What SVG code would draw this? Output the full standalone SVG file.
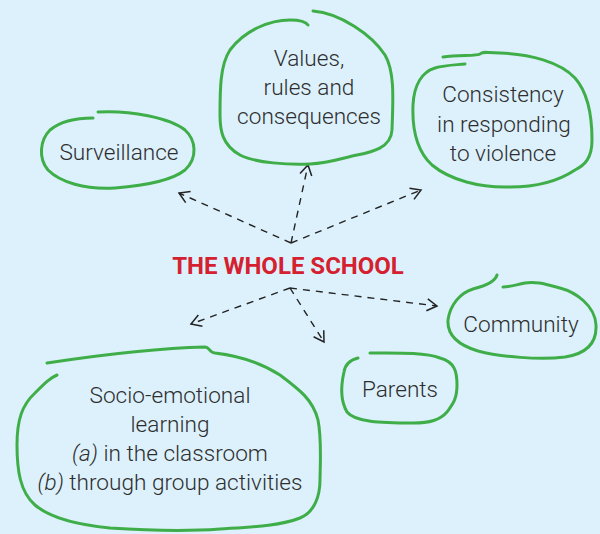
<svg xmlns="http://www.w3.org/2000/svg" width="600" height="534" viewBox="0 0 600 534">
  <style>
    .loop { fill: none; stroke: #3fae49; stroke-width: 3; stroke-linecap: round; stroke-linejoin: round; }
    .lbl { font-family: Roboto, "Liberation Sans", sans-serif; font-size: 22.6px; font-weight: 300; fill: #2e2e2e; text-anchor: middle; }
    .title { font-family: Roboto, "Liberation Sans", sans-serif; font-size: 24px; font-weight: bold; fill: #d5212f; text-anchor: middle; }
    .link { fill: none; stroke: #222222; stroke-width: 1.4; stroke-dasharray: 7 6; marker-end: url(#chev); }
  </style>
  <defs>
    <marker id="chev" markerUnits="userSpaceOnUse" markerWidth="16" markerHeight="16" refX="11" refY="7" orient="auto">
      <path d="M1,1 L11,7 L1,13" fill="none" stroke="#222222" stroke-width="1.5" stroke-dasharray="none"/>
    </marker>
  </defs>

  <rect x="0" y="0" width="600" height="534" fill="#dcf1fc"/>

  <!-- dashed connectors radiating from the centre -->
  <g id="connectors">
    <path class="link" d="M291,243 L179,193"/>
    <path class="link" d="M291,243 L308,165"/>
    <path class="link" d="M291,243 L421,190"/>
    <path class="link" d="M290,288 L191,324"/>
    <path class="link" d="M290,288 L324,342"/>
    <path class="link" d="M290,288 L437,306"/>
  </g>

  <g id="center">
    <text class="title" x="288" y="274">THE WHOLE SCHOOL</text>
  </g>

  <g id="surveillance">
    <path class="loop" d="M98,112 C130,110 170,118 185,130 C196,140 198,158 185,170 C170,182 140,186 115,188 C85,190 60,182 48,170 C38,158 40,140 50,130 C62,120 80,118 93,118"/>
    <text class="lbl" x="119" y="160">Surveillance</text>
  </g>

  <g id="values">
    <path class="loop" d="M313,11 C340,13 372,35 385,55 C395,72 393,100 392,130 C391,148 372,152 357,155 C342,158 330,163 310,164 C290,165 255,163 240,155 C222,145 220,130 220,115 C220,90 220,65 230,50 C245,30 270,20 290,20 C300,20 306,22 308,25"/>
    <text class="lbl" x="309" y="66">Values,</text>
    <text class="lbl" x="309" y="95">rules and</text>
    <text class="lbl" x="309" y="124">consequences</text>
  </g>

  <g id="consistency">
    <path class="loop" d="M443,57 C460,55 478,56 480,54 C483,51 486,53 500,53 C530,54 560,62 575,78 C590,95 592,120 592,140 C592,158 585,165 575,170 C560,180 540,187 510,187 C480,188 450,180 432,165 C418,152 412,130 413,105 C414,85 422,72 435,68 C445,65 455,65 465,64"/>
    <text class="lbl" x="503" y="102">Consistency</text>
    <text class="lbl" x="504" y="132">in responding</text>
    <text class="lbl" x="503" y="161">to violence</text>
  </g>

  <g id="community">
    <path class="loop" d="M497,275 C495,282 485,286 473,289 C460,293 450,305 448,320 C447,335 458,345 478,351 C500,357 540,360 565,357 C585,354 597,345 596,325 C595,305 575,292 560,288 C545,284 535,281 525,283 C515,285 510,287 503,287"/>
    <text class="lbl" x="521" y="332">Community</text>
  </g>

  <g id="parents">
    <path class="loop" d="M358,358 C350,360 345,365 344,372 C341,385 340,400 347,412 C355,422 380,423 413,423 C430,423 440,420 447,412 C452,405 457,400 457,385 C457,372 455,362 440,358 C425,352 395,353 370,353"/>
    <text class="lbl" x="400" y="397">Parents</text>
  </g>

  <g id="socio-emotional">
    <path class="loop" d="M47,363 C100,355 160,348 205,347 C210,347 208,352 215,353 C240,356 260,362 280,375 C300,390 313,400 318,420 C322,440 320,470 320,480 C320,495 315,512 300,518 C280,526 250,527 220,529 C180,532 140,530 110,528 C80,525 50,518 35,505 C20,492 17,470 17,445 C17,420 22,405 35,393 C45,383 50,378 57,375"/>
    <text class="lbl" x="170" y="403">Socio-emotional</text>
    <text class="lbl" x="170" y="432">learning</text>
    <text class="lbl" x="170" y="461"><tspan font-style="italic">(a)</tspan> in the classroom</text>
    <text class="lbl" x="170" y="490"><tspan font-style="italic">(b)</tspan> through group activities</text>
  </g>
</svg>
